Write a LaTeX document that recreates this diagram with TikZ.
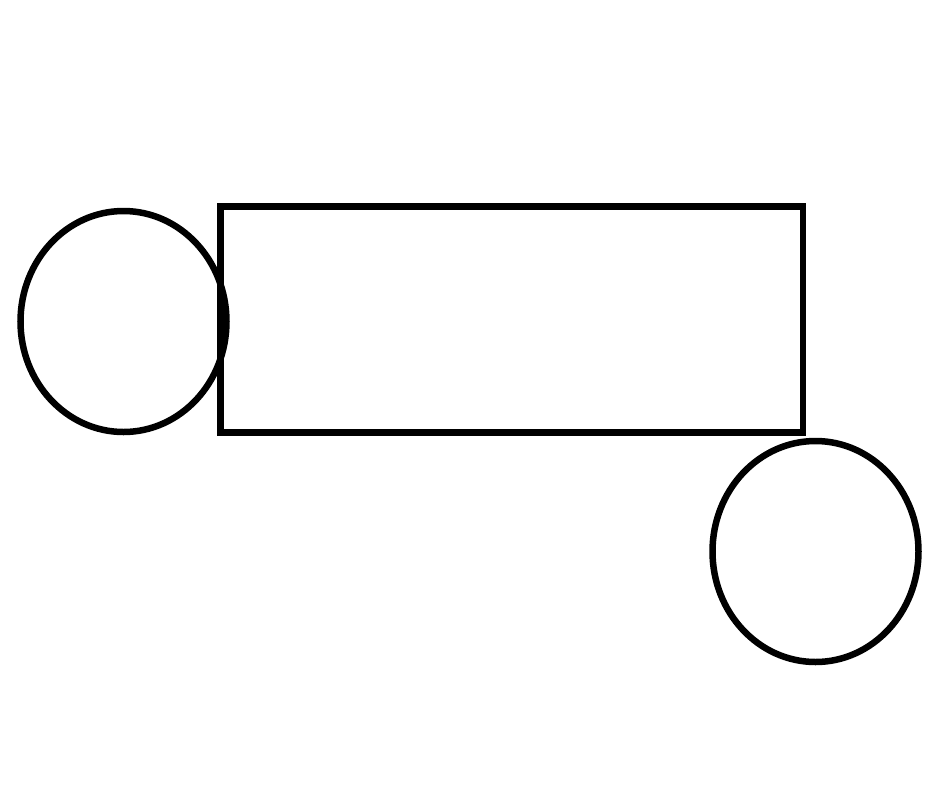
\documentclass[tikz,border=0pt]{standalone}
\usetikzlibrary{shapes.geometric}
\begin{document}
\begin{tikzpicture}[x=1pt,y=-1pt,
  shapeline/.style={draw=black,line width=6.5pt},
  ring/.style={shapeline,ellipse,minimum width=206pt,minimum height=221pt,inner sep=0pt}]
\useasboundingbox (0,0) rectangle (940,788);
\draw[shapeline] (220.5,206.5) rectangle (803,432.5);
\node[ring] (lc) at (123.5,321.5) {};
\node[ring] (rc) at (815.5,551.5) {};
\end{tikzpicture}
\end{document}
